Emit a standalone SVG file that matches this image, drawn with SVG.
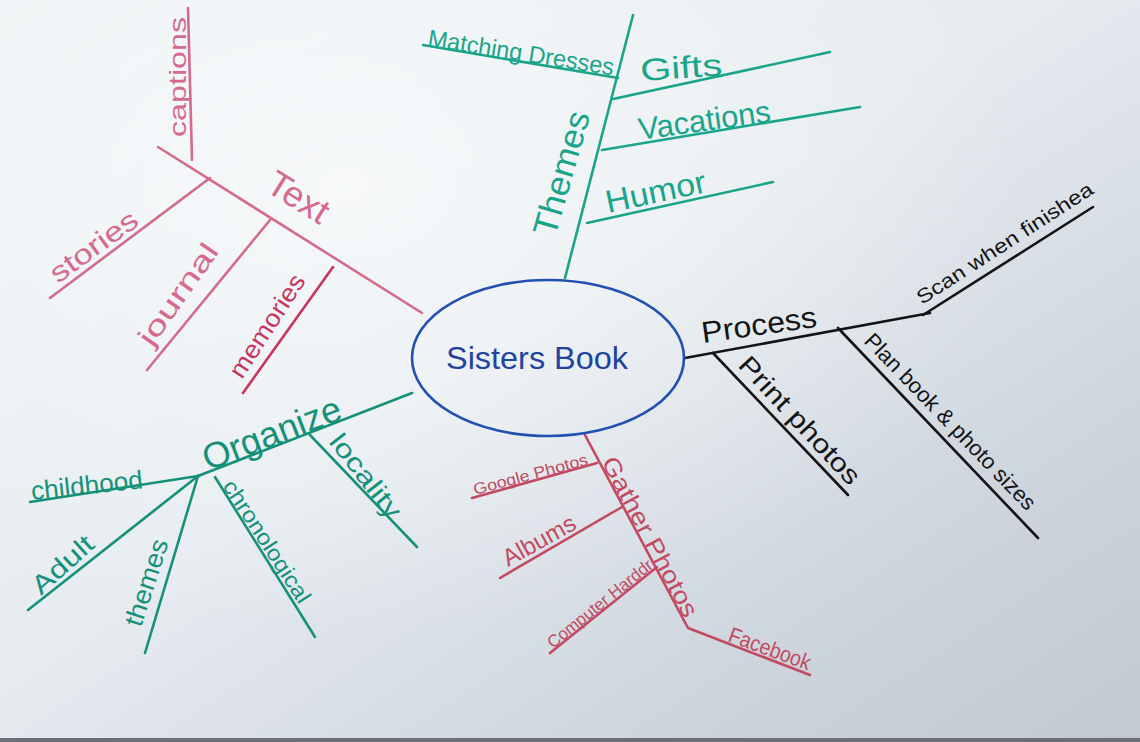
<svg xmlns="http://www.w3.org/2000/svg" width="1140" height="742" viewBox="0 0 1140 742">
<defs>
<linearGradient id="bg" x1="0" y1="0" x2="1" y2="1">
<stop offset="0" stop-color="#eef3f5"/>
<stop offset="0.45" stop-color="#e6ecf0"/>
<stop offset="0.8" stop-color="#ccd3dc"/>
<stop offset="1" stop-color="#c2c9d3"/>
</linearGradient>
<radialGradient id="glow" cx="0.3" cy="0.25" r="0.6">
<stop offset="0" stop-color="#ffffff" stop-opacity="0.6"/>
<stop offset="1" stop-color="#ffffff" stop-opacity="0"/>
</radialGradient>
<style>
.ln{fill:none;stroke-width:2.6;stroke-linecap:round;stroke-linejoin:round}
.pink{stroke:#d46a8e}
.mag{stroke:#c7365f}
.teal{stroke:#1aa58a}
.green{stroke:#15917a}
.blk{stroke:#141414}
.red{stroke:#c24a62}
.blue{stroke:#2250b0}
text{font-family:"Liberation Sans","DejaVu Sans",sans-serif}
.tp{fill:#d46a8e}
.tm{fill:#c7365f}
.tt{fill:#1aa58a}
.tg{fill:#15917a}
.tb{fill:#141414}
.tr{fill:#c24a62}
.tbl{fill:#1f449f}
</style>
</defs>
<rect width="1140" height="742" fill="url(#bg)"/>
<rect width="1140" height="742" fill="url(#glow)"/>
<rect x="0" y="738" width="1140" height="4" fill="#6b7078"/>

<g id="connectors">
<!-- Text branch -->
<path class="ln pink" d="M422,313 L158,147"/>
<path class="ln pink" d="M192,160 L188,8"/>
<path class="ln pink" d="M210,178 L50,298"/>
<path class="ln pink" d="M270,220 L147,370"/>
<path class="ln mag" d="M333,267 L243,393"/>
<!-- Themes branch -->
<path class="ln teal" d="M565,278 L633,15"/>
<path class="ln teal" d="M423,45 L618,78"/>
<path class="ln teal" d="M613,99 L830,52"/>
<path class="ln teal" d="M602,150 L860,107"/>
<path class="ln teal" d="M587,223 L773,182"/>
<!-- Process branch -->
<path class="ln blk" d="M685,358 L930,313"/>
<path class="ln blk" d="M923,315 L1093,207"/>
<path class="ln blk" d="M713,353 L848,495"/>
<path class="ln blk" d="M838,328 L1038,538"/>
<!-- Organize branch -->
<path class="ln green" d="M412,393 L198,476"/>
<path class="ln green" d="M198,476 L30,502"/>
<path class="ln green" d="M198,476 L28,610"/>
<path class="ln green" d="M198,476 L145,653"/>
<path class="ln green" d="M215,477 L315,637"/>
<path class="ln green" d="M310,435 L417,547"/>
<!-- Gather Photos branch -->
<path class="ln red" d="M585,435 L688,628 L810,675"/>
<path class="ln red" d="M597,463 L472,498"/>
<path class="ln red" d="M622,507 L500,578"/>
<path class="ln red" d="M657,567 L550,653"/>
</g>

<g id="center">
<ellipse class="ln blue" cx="548" cy="358" rx="136" ry="78"/>
<text class="tbl" x="537" y="369" font-size="32" text-anchor="middle" textLength="182" lengthAdjust="spacingAndGlyphs">Sisters Book</text>
</g>

<g id="text-branch">
<text class="tp" transform="translate(264,190) rotate(32)" font-size="36">Text</text>
<text class="tp" transform="translate(186,137) rotate(-90)" font-size="24" textLength="120" lengthAdjust="spacingAndGlyphs">captions</text>
<text class="tp" transform="translate(58,284) rotate(-36)" font-size="28" textLength="102" lengthAdjust="spacingAndGlyphs">stories</text>
<text class="tp" transform="translate(152,348) rotate(-55)" font-size="28" textLength="118" lengthAdjust="spacingAndGlyphs">journal</text>
<text class="tm" transform="translate(242,380) rotate(-57)" font-size="25" textLength="118" lengthAdjust="spacingAndGlyphs">memories</text>
</g>

<g id="themes-branch">
<text class="tt" transform="translate(555,238) rotate(-74)" font-size="34" textLength="128" lengthAdjust="spacingAndGlyphs">Themes</text>
<text class="tt" transform="translate(427,46) rotate(9)" font-size="24" textLength="188" lengthAdjust="spacingAndGlyphs">Matching Dresses</text>
<text class="tt" transform="translate(641,81) rotate(-4)" font-size="31" textLength="82" lengthAdjust="spacingAndGlyphs">Gifts</text>
<text class="tt" transform="translate(640,140) rotate(-8)" font-size="31" textLength="133" lengthAdjust="spacingAndGlyphs">Vacations</text>
<text class="tt" transform="translate(608,213) rotate(-12)" font-size="32" textLength="102" lengthAdjust="spacingAndGlyphs">Humor</text>
</g>

<g id="process-branch">
<text class="tb" transform="translate(703,343) rotate(-8)" font-size="30" textLength="116" lengthAdjust="spacingAndGlyphs">Process</text>
<text class="tb" transform="translate(922,305) rotate(-33)" font-size="20" textLength="206" lengthAdjust="spacingAndGlyphs">Scan when finishea</text>
<text class="tb" transform="translate(737,366) rotate(47)" font-size="26" textLength="165" lengthAdjust="spacingAndGlyphs">Print photos</text>
<text class="tb" transform="translate(863,342) rotate(46)" font-size="22" textLength="236" lengthAdjust="spacingAndGlyphs">Plan book &amp; photo sizes</text>
</g>

<g id="organize-branch">
<text class="tg" transform="translate(208,471) rotate(-21)" font-size="36" textLength="146" lengthAdjust="spacingAndGlyphs">Organize</text>
<text class="tg" transform="translate(32,500) rotate(-6)" font-size="26" textLength="112" lengthAdjust="spacingAndGlyphs">childhood</text>
<text class="tg" transform="translate(41,596) rotate(-42)" font-size="26" textLength="74" lengthAdjust="spacingAndGlyphs">Adult</text>
<text class="tg" transform="translate(141,628) rotate(-72)" font-size="26" textLength="90" lengthAdjust="spacingAndGlyphs">themes</text>
<text class="tg" transform="translate(222,486) rotate(57)" font-size="22" textLength="142" lengthAdjust="spacingAndGlyphs">chronological</text>
<text class="tg" transform="translate(328,442) rotate(52)" font-size="26" textLength="100" lengthAdjust="spacingAndGlyphs">locality</text>
</g>

<g id="gather-branch">
<text class="tr" transform="translate(601,462) rotate(62)" font-size="24" textLength="178" lengthAdjust="spacingAndGlyphs">Gather Photos</text>
<text class="tr" transform="translate(475,495) rotate(-15)" font-size="16" textLength="118" lengthAdjust="spacingAndGlyphs">Google Photos</text>
<text class="tr" transform="translate(508,567) rotate(-29)" font-size="24" textLength="80" lengthAdjust="spacingAndGlyphs">Albums</text>
<text class="tr" transform="translate(553,649) rotate(-39)" font-size="17" textLength="130" lengthAdjust="spacingAndGlyphs">Computer Harddr</text>
<text class="tr" transform="translate(727,641) rotate(20)" font-size="22" textLength="86" lengthAdjust="spacingAndGlyphs">Facebook</text>
</g>
</svg>
